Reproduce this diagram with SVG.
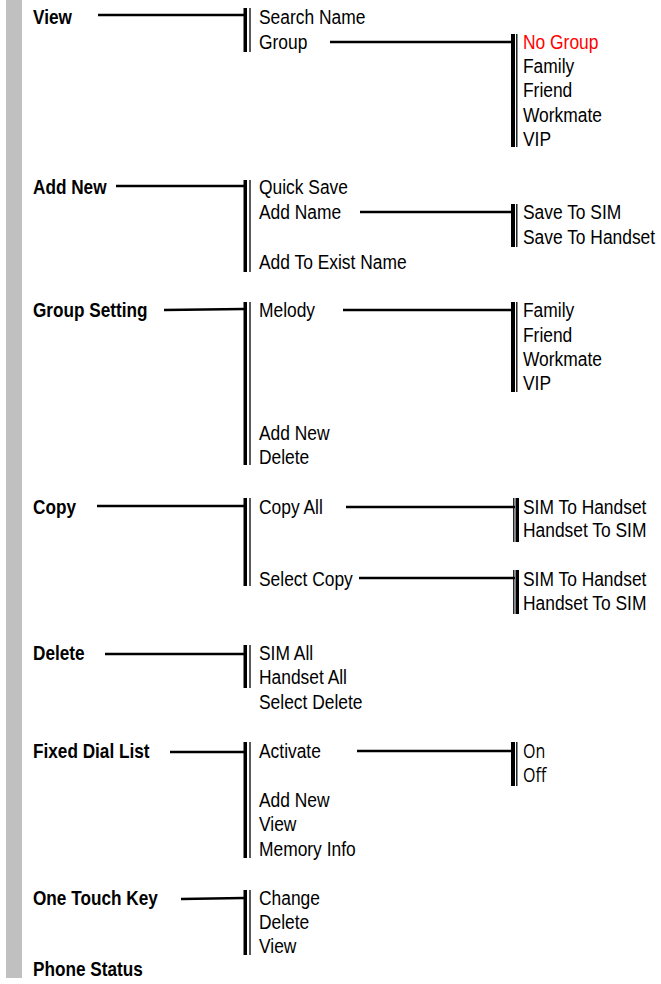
<svg xmlns="http://www.w3.org/2000/svg" width="661" height="984" viewBox="0 0 661 984">
<style>
.b{font-family:"Liberation Sans",Arial,sans-serif;font-weight:bold;font-size:20px;fill:#000}
.r{font-family:"Liberation Sans",Arial,sans-serif;font-size:20px;fill:#000}
.o{font-family:"Open Sans","Liberation Sans",sans-serif;font-size:20px;fill:#000}
.red{fill:#ff0000}
.c{stroke:#000;stroke-width:2.5;fill:none}
.tk{fill:#000}
.tn{stroke:#000;stroke-width:1.3}
</style>
<rect x="6" y="0" width="16" height="978" fill="#c0c0c0"/>
<g id="connectors">
  <line class="c" x1="98" y1="15" x2="244" y2="15"/>
  <rect class="tk" x="243.5" y="8" width="3.5" height="44"/><line class="tn" x1="250" y1="8" x2="250" y2="52"/>
  <line class="c" x1="116" y1="186" x2="244" y2="186"/>
  <rect class="tk" x="243.5" y="180" width="3.5" height="92"/><line class="tn" x1="250" y1="180" x2="250" y2="272"/>
  <line class="c" x1="164" y1="310" x2="244" y2="309"/>
  <rect class="tk" x="243.5" y="302" width="3.5" height="163"/><line class="tn" x1="250" y1="302" x2="250" y2="465"/>
  <line class="c" x1="97" y1="506" x2="244" y2="506"/>
  <rect class="tk" x="243.5" y="498" width="3.5" height="88"/><line class="tn" x1="250" y1="498" x2="250" y2="586"/>
  <line class="c" x1="105" y1="654" x2="244" y2="654"/>
  <rect class="tk" x="243.5" y="645" width="3.5" height="43"/><line class="tn" x1="250" y1="645" x2="250" y2="688"/>
  <line class="c" x1="170" y1="752" x2="244" y2="752"/>
  <rect class="tk" x="243.5" y="742" width="3.5" height="116"/><line class="tn" x1="250" y1="742" x2="250" y2="858"/>
  <line class="c" x1="181" y1="899" x2="244" y2="898"/>
  <rect class="tk" x="243.5" y="890" width="3.5" height="65"/><line class="tn" x1="250" y1="890" x2="250" y2="955"/>
  <line class="c" x1="330" y1="42" x2="512" y2="42"/>
  <rect class="tk" x="511" y="34" width="4" height="113"/><line class="tn" x1="516.8" y1="34" x2="516.8" y2="147"/>
  <line class="c" x1="360" y1="212" x2="512" y2="212"/>
  <rect class="tk" x="511" y="204" width="4" height="43"/><line class="tn" x1="516.8" y1="204" x2="516.8" y2="247"/>
  <line class="c" x1="343" y1="310" x2="512" y2="310"/>
  <rect class="tk" x="511" y="302" width="4" height="90"/><line class="tn" x1="516.8" y1="302" x2="516.8" y2="392"/>
  <line class="c" x1="346" y1="507" x2="515" y2="507"/>
  <line class="tn" x1="513.8" y1="498" x2="513.8" y2="542"/><rect class="tk" x="515.5" y="498" width="3.5" height="44"/>
  <line class="c" x1="359" y1="578" x2="515" y2="578"/>
  <line class="tn" x1="513.8" y1="570" x2="513.8" y2="614"/><rect class="tk" x="515.5" y="570" width="3.5" height="44"/>
  <line class="c" x1="357" y1="751" x2="512" y2="751"/>
  <rect class="tk" x="511" y="742" width="4" height="44"/><line class="tn" x1="516.8" y1="742" x2="516.8" y2="786"/>
</g>
<g id="view"><text class="b" transform="translate(33 24) scale(0.86 1)">View</text></g>
<g id="view-items">
  <text class="r" transform="translate(259 23.5) scale(0.87 1)">Search Name</text>
  <text class="r" transform="translate(259 48.5) scale(0.87 1)">Group</text>
</g>
<g id="group-items">
  <text class="r red" transform="translate(523 48.5) scale(0.87 1)">No Group</text>
  <text class="r" transform="translate(523 72.7) scale(0.87 1)">Family</text>
  <text class="r" transform="translate(523 96.7) scale(0.87 1)">Friend</text>
  <text class="r" transform="translate(523 121.5) scale(0.87 1)">Workmate</text>
  <text class="r" transform="translate(523 145.5) scale(0.87 1)">VIP</text>
</g>
<g id="add-new"><text class="b" transform="translate(33 194) scale(0.86 1)">Add New</text></g>
<g id="add-new-items">
  <text class="r" transform="translate(259 193.5) scale(0.87 1)">Quick Save</text>
  <text class="r" transform="translate(259 218.5) scale(0.87 1)">Add Name</text>
  <text class="r" transform="translate(259 268.5) scale(0.87 1)">Add To Exist Name</text>
</g>
<g id="add-name-items">
  <text class="r" transform="translate(523 218.5) scale(0.87 1)">Save To SIM</text>
  <text class="r" transform="translate(523 243.5) scale(0.87 1)">Save To Handset</text>
</g>
<g id="group-setting"><text class="b" transform="translate(33 317) scale(0.86 1)">Group Setting</text></g>
<g id="group-setting-items">
  <text class="r" transform="translate(259 316.5) scale(0.87 1)">Melody</text>
  <text class="r" transform="translate(259 439.5) scale(0.87 1)">Add New</text>
  <text class="r" transform="translate(259 463.5) scale(0.87 1)">Delete</text>
</g>
<g id="melody-items">
  <text class="r" transform="translate(523 316.5) scale(0.87 1)">Family</text>
  <text class="r" transform="translate(523 341.5) scale(0.87 1)">Friend</text>
  <text class="r" transform="translate(523 365.5) scale(0.87 1)">Workmate</text>
  <text class="r" transform="translate(523 389.5) scale(0.87 1)">VIP</text>
</g>
<g id="copy"><text class="b" transform="translate(33 514) scale(0.86 1)">Copy</text></g>
<g id="copy-items">
  <text class="r" transform="translate(259 513.5) scale(0.87 1)">Copy All</text>
  <text class="r" transform="translate(259 585.5) scale(0.87 1)">Select Copy</text>
</g>
<g id="copy-all-items">
  <text class="r" transform="translate(523 513.5) scale(0.87 1)">SIM To Handset</text>
  <text class="r" transform="translate(523 536.5) scale(0.87 1)">Handset To SIM</text>
</g>
<g id="select-copy-items">
  <text class="r" transform="translate(523 585.5) scale(0.87 1)">SIM To Handset</text>
  <text class="r" transform="translate(523 609.5) scale(0.87 1)">Handset To SIM</text>
</g>
<g id="delete"><text class="b" transform="translate(33 660) scale(0.86 1)">Delete</text></g>
<g id="delete-items">
  <text class="r" transform="translate(259 659.5) scale(0.87 1)">SIM All</text>
  <text class="r" transform="translate(259 683.5) scale(0.87 1)">Handset All</text>
  <text class="r" transform="translate(259 708.5) scale(0.87 1)">Select Delete</text>
</g>
<g id="fixed-dial-list"><text class="b" transform="translate(33 758) scale(0.86 1)">Fixed Dial List</text></g>
<g id="fixed-dial-items">
  <text class="r" transform="translate(259 757.5) scale(0.87 1)">Activate</text>
  <text class="r" transform="translate(259 806.5) scale(0.87 1)">Add New</text>
  <text class="r" transform="translate(259 830.5) scale(0.87 1)">View</text>
  <text class="r" transform="translate(259 855.5) scale(0.87 1)">Memory Info</text>
</g>
<g id="activate-items">
  <text class="o" transform="translate(523 757.5) scale(0.8 1)">On</text>
  <text class="o" transform="translate(523 781.5) scale(0.8 1)">Off</text>
</g>
<g id="one-touch-key"><text class="b" transform="translate(33 905) scale(0.86 1)">One Touch Key</text></g>
<g id="one-touch-items">
  <text class="r" transform="translate(259 904.5) scale(0.87 1)">Change</text>
  <text class="r" transform="translate(259 928.5) scale(0.87 1)">Delete</text>
  <text class="r" transform="translate(259 952.5) scale(0.87 1)">View</text>
</g>
<g id="phone-status"><text class="b" transform="translate(33 976) scale(0.86 1)">Phone Status</text></g>
</svg>
